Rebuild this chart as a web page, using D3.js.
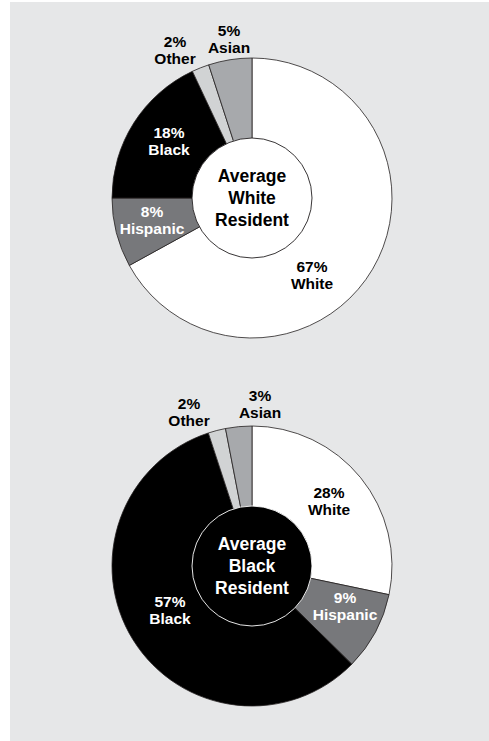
<!DOCTYPE html>
<html>
<head>
<meta charset="utf-8">
<script src="https://cdn.jsdelivr.net/npm/d3@7"></script>
<style>
  html, body { margin: 0; padding: 0; background: #ffffff; }
  svg { display: block; }
  text { font-family: "Liberation Sans", Arial, sans-serif; font-weight: 700; }
</style>
</head>
<body>
<script>
// Racial makeup of the neighbourhood of the average resident, by group
const groups = ["White", "Hispanic", "Black", "Other", "Asian"];
const whiteResidentShares = [67, 8, 18, 2, 5];
const blackResidentShares = [28, 9, 57, 2, 3];
const centerTitles = [
  ["Average", "White", "Resident"],
  ["Average", "Black", "Resident"]
];

// Styling per group
const fillOf = { White: "#ffffff", Hispanic: "#77787b", Black: "#000000", Other: "#d1d3d4", Asian: "#a7a9ac" };
const textOf = { White: "#000000", Hispanic: "#ffffff", Black: "#ffffff", Other: "#000000", Asian: "#000000" };

// Label anchors relative to each donut's centre (same order as groups)
const labelSpots = [
  [[60, 77], [-100, 22], [-83, -57], [-77, -148], [-23, -159]],
  [[77, -65], [93, 40], [-82, 44], [-63, -154], [8, -162]]
];

const W = 489, H = 741;
const outerR = 140, innerR = 60;
const centers = [[252, 198], [252, 566]];

const labelSize = 15.5, labelGap = 17.7;
const titleSize = 17.5, titleGap = 22;

const svg = d3.select("body").append("svg").attr("width", W).attr("height", H);

svg.append("rect")
  .attr("x", 10).attr("y", 2)
  .attr("width", W - 10).attr("height", H - 2)
  .attr("fill", "#e6e7e8");

const pie = d3.pie().sort(null).value(d => d.value);
const arc = d3.arc().innerRadius(0).outerRadius(outerR);

[whiteResidentShares, blackResidentShares].forEach((shares, ci) => {
  const data = groups.map((g, i) => ({ group: g, value: shares[i] }));
  const g = svg.append("g").attr("transform", `translate(${centers[ci][0]},${centers[ci][1]})`);

  g.selectAll("path.slice")
    .data(pie(data))
    .join("path")
    .attr("class", "slice")
    .attr("d", arc)
    .attr("fill", d => fillOf[d.data.group])
    .attr("stroke", "#231f20")
    .attr("stroke-width", 0.8);

  // Centre disc carrying the title of the resident group
  const isBlack = ci === 1;
  g.append("circle")
    .attr("r", innerR)
    .attr("fill", isBlack ? "#000000" : "#ffffff")
    .attr("stroke", isBlack ? "#ffffff" : "#231f20")
    .attr("stroke-width", 0.9);

  const title = g.append("text")
    .attr("text-anchor", "middle")
    .attr("font-size", titleSize)
    .attr("fill", isBlack ? "#ffffff" : "#000000");
  centerTitles[ci].forEach((line, li) => {
    title.append("tspan")
      .attr("x", 0)
      .attr("y", (li - 1) * titleGap + titleSize * 0.36)
      .text(line);
  });

  // Percentage + group labels
  const capMid = labelSize * 0.358;
  data.forEach((d, i) => {
    const [lx, ly] = labelSpots[ci][i];
    const t = g.append("text")
      .attr("text-anchor", "middle")
      .attr("font-size", labelSize)
      .attr("fill", textOf[d.group]);
    t.append("tspan").attr("x", lx).attr("y", ly - labelGap / 2 + capMid).text(d3.format("d")(d.value) + "%");
    t.append("tspan").attr("x", lx).attr("y", ly + labelGap / 2 + capMid).text(d.group);
  });
});
</script>
</body>
</html>
